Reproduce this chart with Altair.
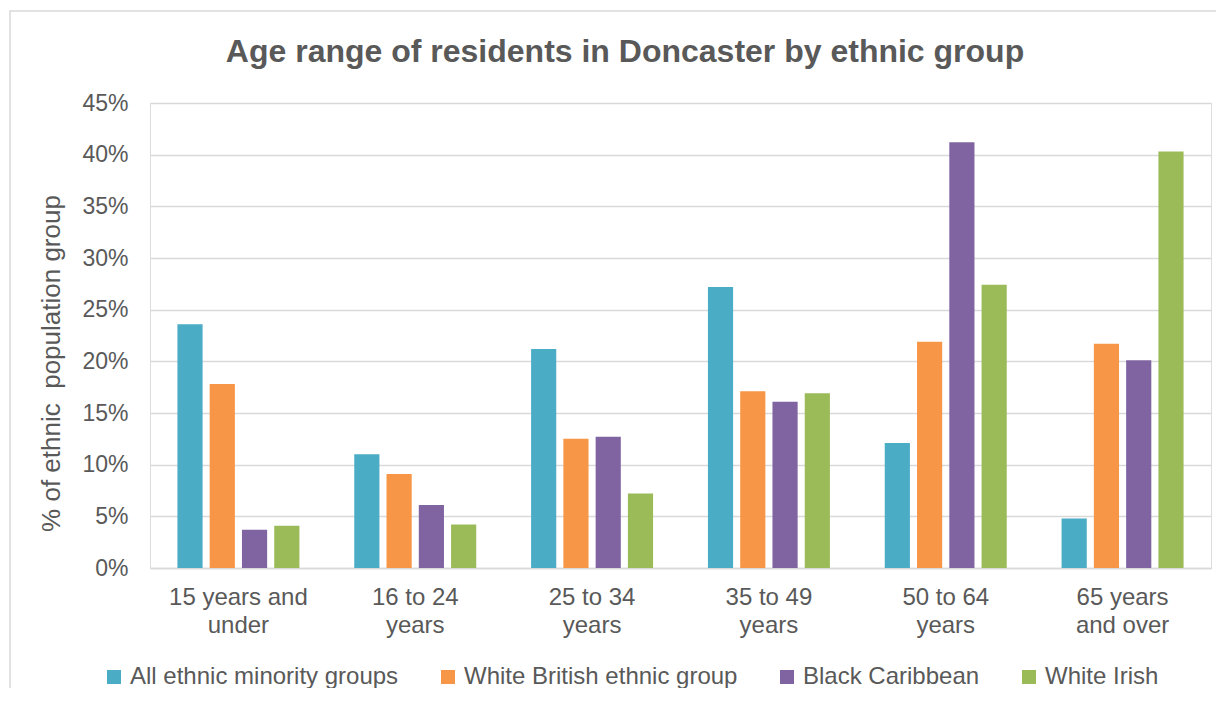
import altair as alt
import pandas as pd

# ---- data ----
age_groups = ["15 years and under", "16 to 24 years", "25 to 34 years",
              "35 to 49 years", "50 to 64 years", "65 years and over"]
series = ["All ethnic minority groups", "White British ethnic group",
          "Black Caribbean", "White Irish"]
all_minority = [23.6, 11.0, 21.2, 27.2, 12.1, 4.8]
white_british = [17.8, 9.1, 12.5, 17.1, 21.9, 21.7]
black_caribbean = [3.7, 6.1, 12.7, 16.1, 41.2, 20.1]
white_irish = [4.1, 4.2, 7.2, 16.9, 27.4, 40.3]
label_lines = {
    "15 years and under": ["15 years and", "under"],
    "16 to 24 years": ["16 to 24", "years"],
    "25 to 34 years": ["25 to 34", "years"],
    "35 to 49 years": ["35 to 49", "years"],
    "50 to 64 years": ["50 to 64", "years"],
    "65 years and over": ["65 years", "and over"],
}
colors = ["#4BACC6", "#F79646", "#8064A2", "#9BBB59"]
title_text = "Age range of residents in Doncaster by ethnic group"
y_title = "% of ethnic\u00a0\u00a0population group"

rows = []
for s, vals in zip(series, [all_minority, white_british, black_caribbean, white_irish]):
    for a, v in zip(age_groups, vals):
        rows.append({"age": a, "series": s, "value": v / 100.0})
df = pd.DataFrame(rows)

# label expression (multi-line labels)
expr = "datum.label"
for k, lines in reversed(list(label_lines.items())):
    arr = "[" + ",".join("'" + l + "'" for l in lines) + "]"
    expr = f"datum.label == '{k}' ? {arr} : ({expr})"

FONT = "Liberation Sans"
TXT = "#595959"
W, H = 1061, 465

bars = alt.Chart(df).mark_bar().encode(
    x=alt.X("age:N", sort=age_groups, title=None,
            scale=alt.Scale(paddingInner=0.27, paddingOuter=0.135),
            axis=alt.Axis(labelAngle=0, labelFontSize=24, labelColor=TXT, labelFont=FONT,
                          labelExpr=expr, labelLineHeight=28, labelPadding=17,
                          labelBaseline="top",
                          ticks=False, tickSize=0, domainColor="#d9d9d9", domainWidth=1.5,
                          grid=False)),
    xOffset=alt.XOffset("series:N", sort=series,
                        scale=alt.Scale(paddingInner=0.22, paddingOuter=0.11)),
    y=alt.Y("value:Q",
            scale=alt.Scale(domain=[0, 0.45]),
            axis=alt.Axis(format=".0%", values=[i * 0.05 for i in range(10)],
                          title=y_title,
                          titleFontSize=26, titleFont=FONT, titleColor=TXT, titleFontWeight="normal",
                          titleX=-91, titleY=260, titleBaseline="alphabetic", titleAngle=270,
                          labelFontSize=23, labelFont=FONT, labelColor=TXT, labelPadding=22,
                          ticks=False, tickSize=0, domain=False,
                          gridColor="#d9d9d9", gridWidth=1.5)),
    color=alt.Color("series:N", sort=series,
                    scale=alt.Scale(domain=series, range=colors),
                    legend=alt.Legend(title=None, orient="none", direction="horizontal",
                                      legendX=-48, legendY=562,
                                      symbolType="square", symbolSize=196, symbolStrokeWidth=0,
                                      labelFontSize=24, labelFont=FONT, labelColor=TXT,
                                      labelOffset=4, columnPadding=37,
                                      labelLimit=400)),
)

border = alt.Chart(pd.DataFrame({"d": [0]})).mark_rect(
    fill=None, stroke="#d9d9d9", strokeWidth=1.5, clip=False
).encode(x=alt.value(-140), x2=alt.value(W + 40), y=alt.value(-92), y2=alt.value(H + 150))

title = alt.Chart(pd.DataFrame({"t": [title_text]})).mark_text(
    font=FONT, fontSize=32, fontWeight="bold", color=TXT,
    align="center", baseline="alphabetic", clip=False
).encode(text="t:N", x=alt.value(475), y=alt.value(-41))

chart = alt.layer(border, bars, title).properties(
    width=W, height=H,
    autosize=alt.AutoSizeParams(type="none"),
    padding={"left": 142, "top": 95, "right": 5, "bottom": 120},
).configure_view(stroke=None).configure(background="white")

chart.save("out.html", embed_options={"renderer": "svg", "actions": False})
